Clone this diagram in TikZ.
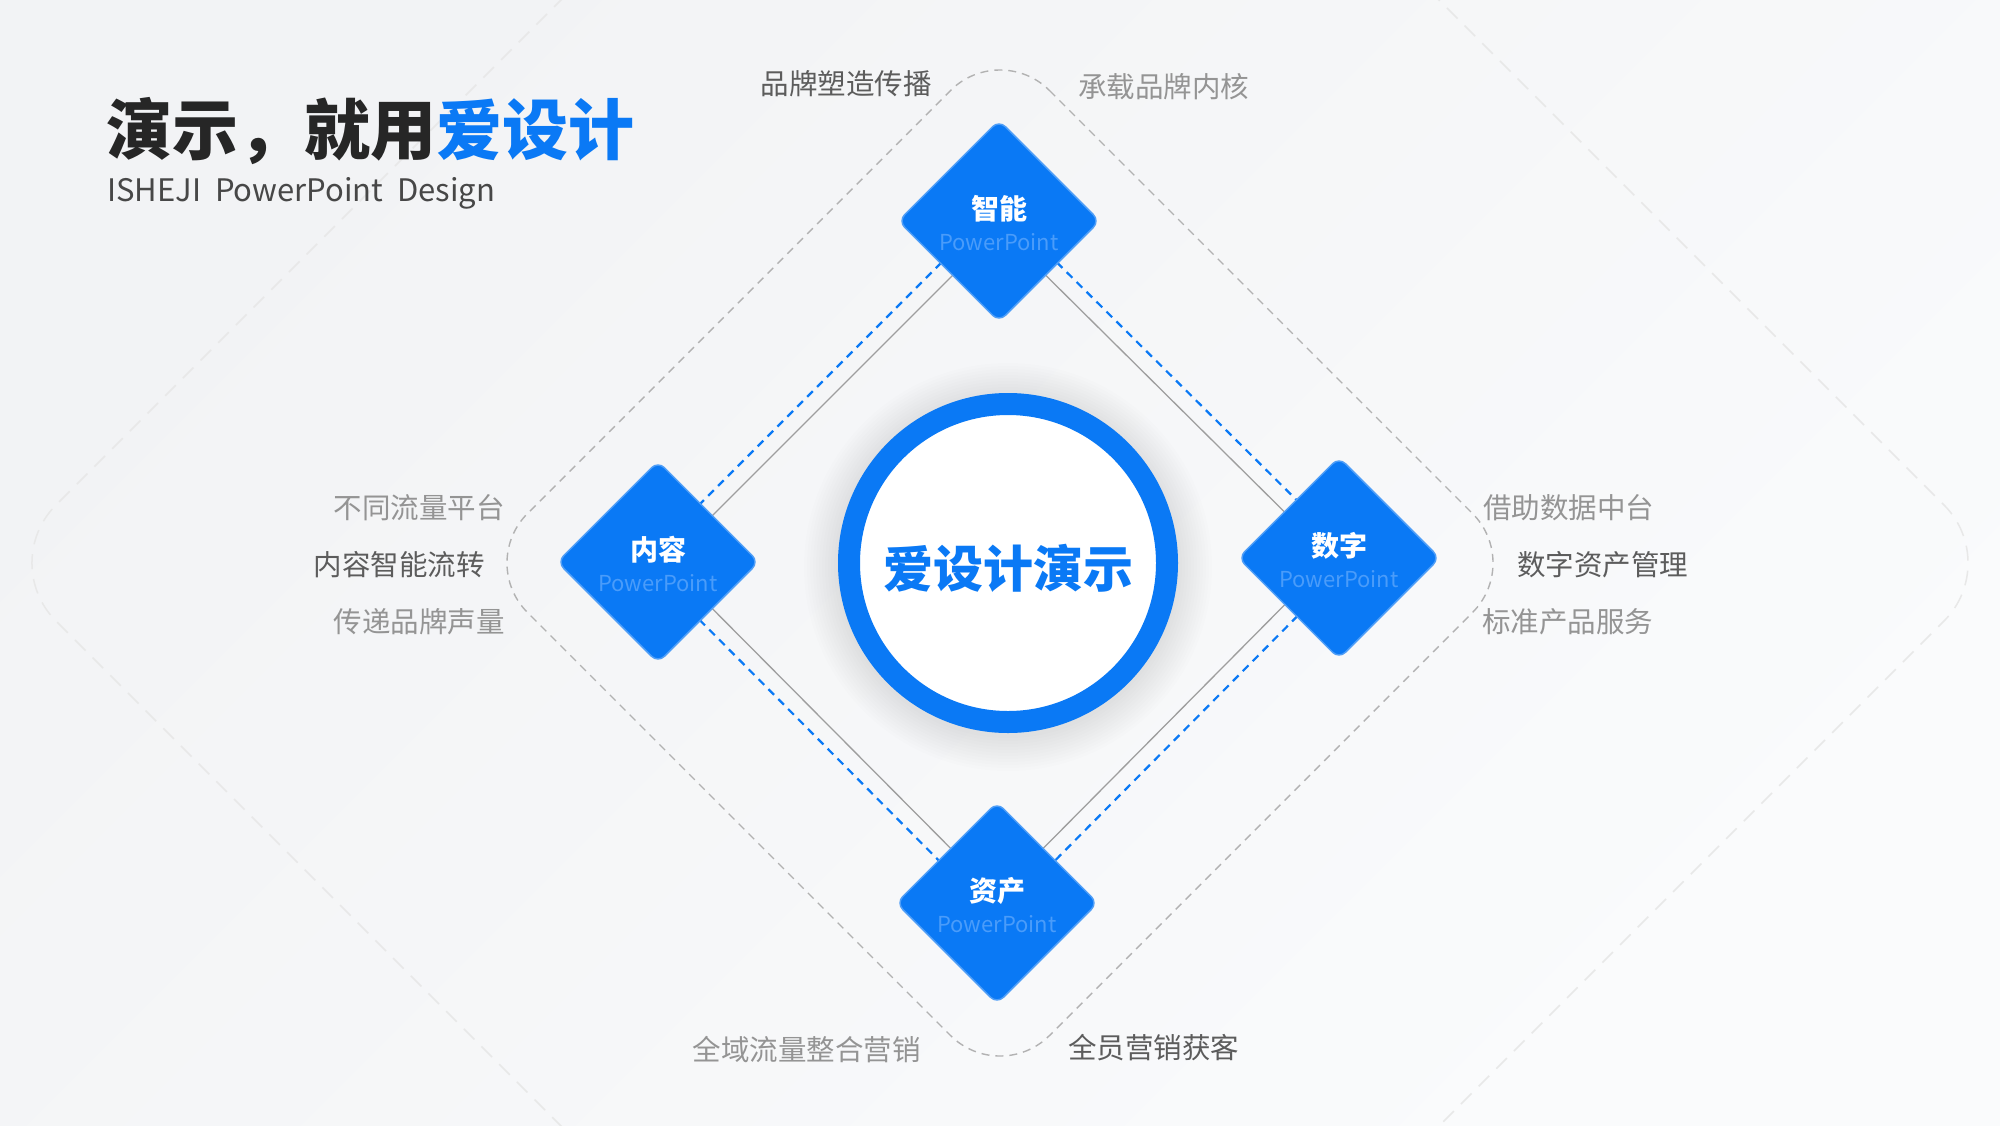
\documentclass[tikz,border=0pt]{standalone}
\usepackage{fontspec}
\setmainfont{Noto Sans CJK SC}
\usetikzlibrary{shapes.geometric}
\definecolor{brandblue}{HTML}{0A79F5}
\definecolor{edgeblue}{HTML}{4F9EF7}
\definecolor{subblue}{HTML}{4A9CFA}
\definecolor{bgdark}{HTML}{F2F3F5}
\definecolor{bglight}{HTML}{FAFBFC}
\definecolor{inkdark}{HTML}{262626}
\begin{document}
\begin{tikzpicture}
        [x=1pt,y=-1pt,
         kbox/.style={diamond,aspect=1,minimum size=202pt,inner sep=0pt,
           fill=brandblue,draw=edgeblue,line width=1.5pt,rounded corners=9pt},
         ktitle/.style={inner sep=0pt,text=white,font=\fontsize{28}{28}\selectfont\bfseries},
         ksub/.style={inner sep=0pt,text=subblue,font=\fontsize{22}{22}\selectfont},
         lbl/.style={inner sep=0pt,text=black!42,font=\fontsize{28.5}{28.5}\selectfont},
         lbldark/.style={lbl,text=black!64},
         link/.style={draw=black!38,line width=1.3pt},
         bluedash/.style={draw=brandblue,line width=2.2pt,dash pattern=on 8pt off 6pt},
         framedash/.style={draw=black!30,line width=1.4pt,dash pattern=on 8pt off 6pt},
         faintdash/.style={draw=black!9,line width=1.5pt,dash pattern=on 15pt off 10pt}]
        \useasboundingbox (0,0) rectangle (2000,1125);
        \shade[top color=bgdark,bottom color=bglight,shading angle=45] (0,0) rectangle (2000,1125);

        % frames
        \draw[faintdash,rounded corners=82pt] (1000,-439) -- (2002,563) -- (1000,1565) -- (-2,563) -- cycle;
        \draw[framedash,rounded corners=70pt] (1000,41) -- (1522,563) -- (1000,1085) -- (478,563) -- cycle;

        % title
        \node[anchor=west,inner sep=0pt,text=inkdark] (title) at (106,131)
          {\fontsize{66}{66}\selectfont\bfseries 演示，就用\textcolor{brandblue}{爱设计}};
        \node[anchor=base west,inner sep=0pt,text=black!72] (subtitle) at (107,201)
          {\fontsize{31}{31}\selectfont ISHEJI\ \ PowerPoint\ \ Design};

        \coordinate (c-zn) at (999,221);
        \coordinate (c-nr) at (658,562);
        \coordinate (c-sz) at (1339,558);
        \coordinate (c-zc) at (997,903);
        \coordinate (c-hub) at (1008,563);

        % connectors
        \draw[link] ([shift={(4,4)}]c-zn) -- ([shift={(4,4)}]c-nr);
        \draw[bluedash] ([shift={(-8,-8)}]c-zn) -- ([shift={(-8,-8)}]c-nr);
        \draw[link] ([shift={(-4,4)}]c-zn) -- ([shift={(-4,4)}]c-sz);
        \draw[bluedash] ([shift={(8,-8)}]c-zn) -- ([shift={(8,-8)}]c-sz);
        \draw[link] ([shift={(4,-4)}]c-nr) -- ([shift={(4,-4)}]c-zc);
        \draw[bluedash] ([shift={(-8,8)}]c-nr) -- ([shift={(-8,8)}]c-zc);
        \draw[link] ([shift={(-4,-4)}]c-sz) -- ([shift={(-4,-4)}]c-zc);
        \draw[bluedash] ([shift={(8,8)}]c-sz) -- ([shift={(8,8)}]c-zc);

        % hub
        \foreach \i in {1,...,12}
        {\fill[black,opacity=0.007] ([shift={(0,4)}]c-hub) circle (168+3*\i);}
        \node[circle,minimum size=318pt,inner sep=0pt,draw=brandblue,line width=22pt,fill=white] (hub) at (c-hub) {};
        \node[inner sep=0pt,text=brandblue,font=\fontsize{50}{50}\selectfont\bfseries] (hub-t) at ([shift={(0,5)}]hub.center) {爱设计演示};

        % diamonds
        \node[kbox] (zn) at (c-zn) {};
        \node[ktitle] (zn-t) at ([shift={(0,-12)}]zn.center) {智能};
        \node[ksub] (zn-s) at ([shift={(0,21)}]zn.center) {PowerPoint};
        \node[kbox] (nr) at (c-nr) {};
        \node[ktitle] (nr-t) at ([shift={(0,-12)}]nr.center) {内容};
        \node[ksub] (nr-s) at ([shift={(0,21)}]nr.center) {PowerPoint};
        \node[kbox] (sz) at (c-sz) {};
        \node[ktitle] (sz-t) at ([shift={(0,-12)}]sz.center) {数字};
        \node[ksub] (sz-s) at ([shift={(0,21)}]sz.center) {PowerPoint};
        \node[kbox] (zc) at (c-zc) {};
        \node[ktitle] (zc-t) at ([shift={(0,-12)}]zc.center) {资产};
        \node[ksub] (zc-s) at ([shift={(0,21)}]zc.center) {PowerPoint};

        % labels
        \node[lbldark,anchor=east] (l-top1) at (932,84) {品牌塑造传播};
        \node[lbl,anchor=west] (l-top2) at (1078,87) {承载品牌内核};
        \node[lbl,anchor=east] (l-left1) at (505,508) {不同流量平台};
        \node[lbldark,anchor=east] (l-left2) at (485,565) {内容智能流转};
        \node[lbl,anchor=east] (l-left3) at (505,622) {传递品牌声量};
        \node[lbl,anchor=west] (l-right1) at (1483,508) {借助数据中台};
        \node[lbldark,anchor=west] (l-right2) at (1517,565) {数字资产管理};
        \node[lbl,anchor=west] (l-right3) at (1482,622) {标准产品服务};
        \node[lbl,anchor=east] (l-bot1) at (921,1050) {全域流量整合营销};
        \node[lbldark,anchor=west] (l-bot2) at (1068,1048) {全员营销获客};
      \end{tikzpicture}
\end{document}
